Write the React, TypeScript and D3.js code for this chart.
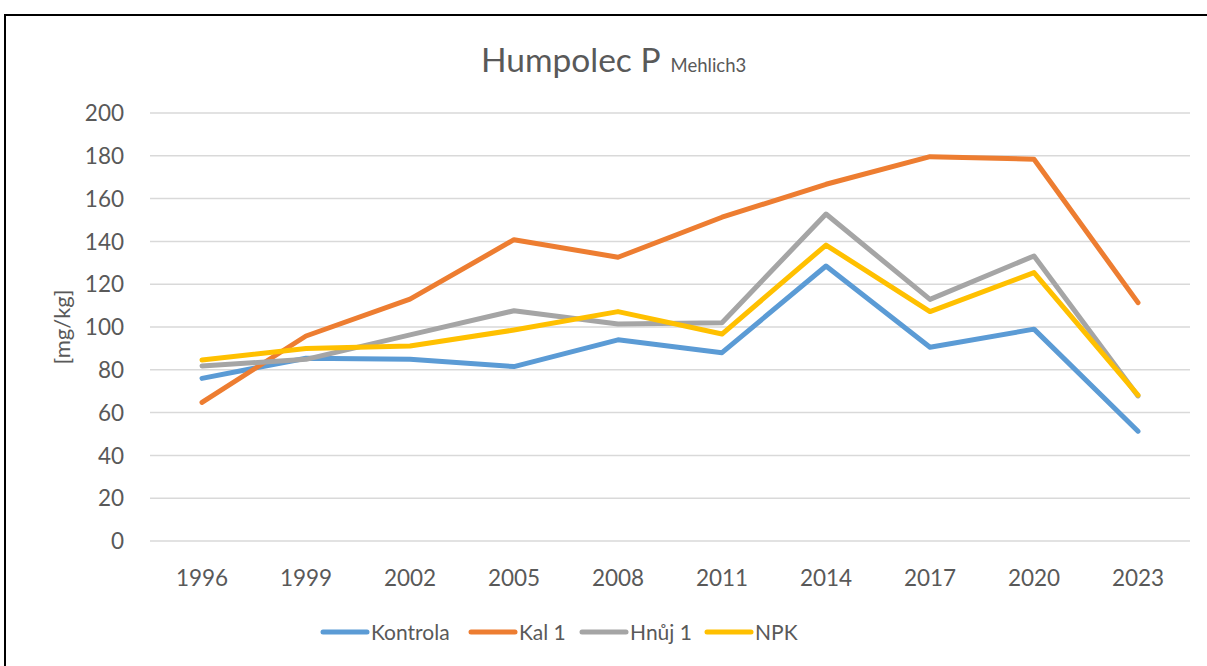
import React from "react";
import * as d3 from "d3";

const years = ["1996", "1999", "2002", "2005", "2008", "2011", "2014", "2017", "2020", "2023"];
const kontrola = [76, 85.4, 84.9, 81.5, 94, 88, 128.5, 90.5, 99, 51.3];
const kal1 = [64.8, 95.8, 113, 140.8, 132.6, 151.3, 166.7, 179.6, 178.4, 111.4];
const hnuj1 = [81.8, 84.9, 96.3, 107.6, 101.4, 102, 152.8, 112.9, 133.2, 67.8];
const npk = [84.6, 90, 91.1, 98.6, 107.2, 96.7, 138.3, 107.2, 125.4, 68.2];
const yTicks = [0, 20, 40, 60, 80, 100, 120, 140, 160, 180, 200];

const series = [
  { name: "Kontrola", values: kontrola, color: "#5B9BD5" },
  { name: "Kal 1", values: kal1, color: "#ED7D31" },
  { name: "Hnůj 1", values: hnuj1, color: "#A5A5A5" },
  { name: "NPK", values: npk, color: "#FFC000" },
];

const W = 1207;
const H = 666;
const FONT = "Lato, 'Open Sans', sans-serif";
const TXT = "#595959";

export default function App() {
  const x = d3.scaleBand<string>().domain(years).range([150, 1190]);
  const y = d3.scaleLinear().domain([0, 200]).range([541, 113]);
  const line = d3
    .line<number>()
    .x((_, i) => (x(years[i]) as number) + x.bandwidth() / 2)
    .y((d) => y(d));

  const legendX = [323, 471, 582, 707];

  return (
    <svg
      width={W}
      height={H}
      style={{ position: "absolute", left: 0, top: 0, background: "#fff" }}
    >
      <rect x={5} y={15} width={1220} height={700} fill="#fff" stroke="#000" strokeWidth={2} />
      <text x={481} y={72} fontFamily={FONT} fill={TXT}>
        <tspan fontSize={33.5}>Humpolec P</tspan>
        <tspan fontSize={18.5} dx={10}>Mehlich3</tspan>
      </text>
      {yTicks.map((t) => (
        <g key={t}>
          <line x1={150} x2={1190} y1={y(t)} y2={y(t)} stroke="#D9D9D9" strokeWidth={1.5} />
          <text
            x={124}
            y={y(t)}
            dy="0.36em"
            textAnchor="end"
            fontFamily={FONT}
            fontSize={22.5}
            fill={TXT}
          >
            {t}
          </text>
        </g>
      ))}
      {years.map((yr) => (
        <text
          key={yr}
          x={(x(yr) as number) + x.bandwidth() / 2}
          y={578}
          dy="0.36em"
          textAnchor="middle"
          fontFamily={FONT}
          fontSize={22.5}
          fill={TXT}
        >
          {yr}
        </text>
      ))}
      <text
        transform="translate(62,327) rotate(-90)"
        textAnchor="middle"
        dy="0.35em"
        fontFamily={FONT}
        fontSize={22}
        fill={TXT}
      >
        [mg/kg]
      </text>
      {series.map((s) => (
        <path
          key={s.name}
          d={line(s.values) || ""}
          fill="none"
          stroke={s.color}
          strokeWidth={5}
          strokeLinejoin="round"
          strokeLinecap="round"
        />
      ))}
      {series.map((s, i) => (
        <g key={s.name}>
          <line
            x1={legendX[i]}
            x2={legendX[i] + 44}
            y1={632}
            y2={632}
            stroke={s.color}
            strokeWidth={5}
            strokeLinecap="round"
          />
          <text
            x={legendX[i] + 48}
            y={632}
            dy="0.36em"
            fontFamily={FONT}
            fontSize={21}
            fill={TXT}
          >
            {s.name}
          </text>
        </g>
      ))}
    </svg>
  );
}
